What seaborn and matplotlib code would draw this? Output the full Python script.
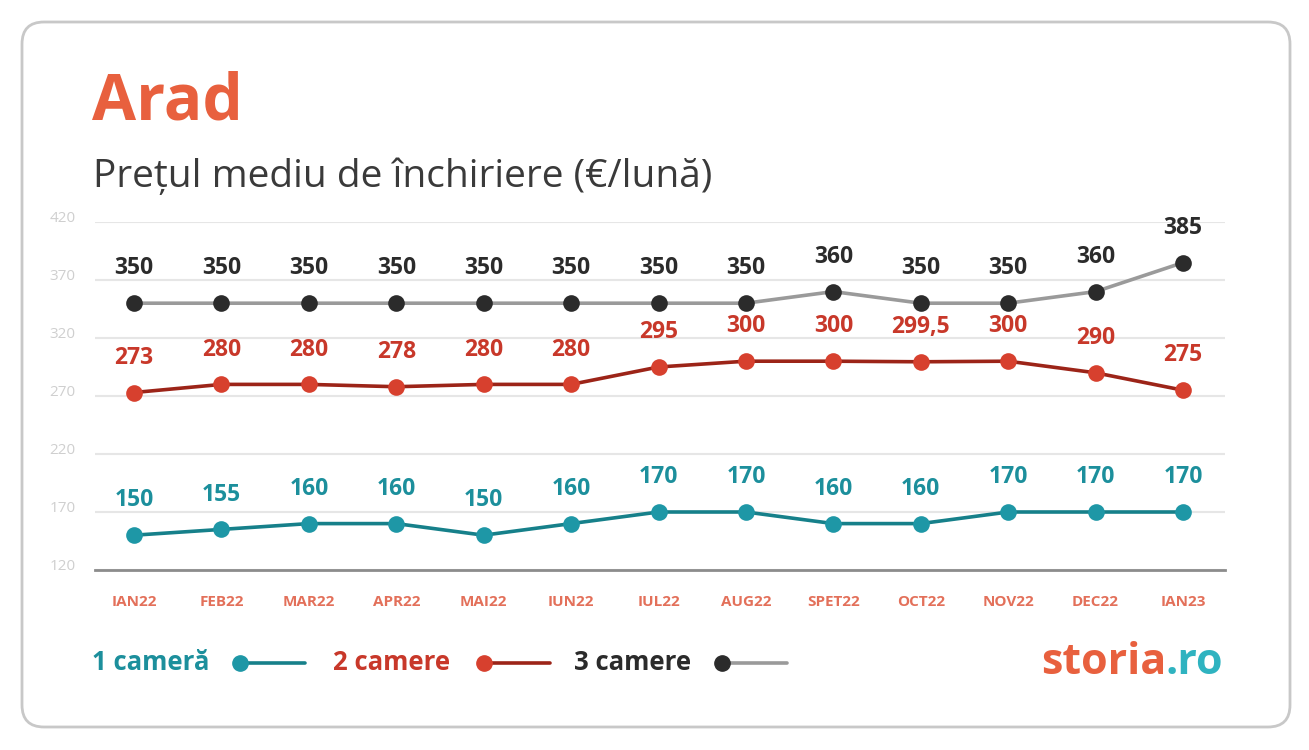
import matplotlib
matplotlib.use("Agg")
import pandas as pd
import matplotlib.pyplot as plt
import matplotlib.transforms as mtransforms
from matplotlib.patches import FancyBboxPatch
from matplotlib.lines import Line2D
import seaborn as sns

# date
months = ['IAN22', 'FEB22', 'MAR22', 'APR22', 'MAI22', 'IUN22', 'IUL22',
          'AUG22', 'SPET22', 'OCT22', 'NOV22', 'DEC22', 'IAN23']
one_room = [150, 155, 160, 160, 150, 160, 170, 170, 160, 160, 170, 170, 170]
two_rooms = [273, 280, 280, 278, 280, 280, 295, 300, 300, 299.5, 300, 290, 275]
three_rooms = [350, 350, 350, 350, 350, 350, 350, 350, 360, 350, 350, 360, 385]
y_ticks = [120, 170, 220, 270, 320, 370, 420]
series_names = ['1 cameră', '2 camere', '3 camere']

W, H = 1309, 750

# culori: (linie, marker, text)
styles = {
    '1 cameră': ('#16808a', '#1e97a6', '#1c8f9c'),
    '2 camere': ('#9c2418', '#d7402e', '#c8382a'),
    '3 camere': ('#9a9a9a', '#2b2b2b', '#2b2b2b'),
}

rows = []
for name, vals in zip(series_names, [one_room, two_rooms, three_rooms]):
    for i, v in enumerate(vals):
        rows.append({'idx': i, 'month': months[i], 'value': v, 'serie': name})
df = pd.DataFrame(rows)

sns.set_theme(style="white")
plt.rcParams['font.family'] = ['Open Sans', 'DejaVu Sans']

fig = plt.figure(figsize=(W / 100, H / 100), dpi=100)
fig.patch.set_facecolor('white')

# chenar rotunjit
frame = FancyBboxPatch((0.22, 0.23), 12.68, 7.05,
                       boxstyle="round,pad=0,rounding_size=0.22",
                       transform=fig.dpi_scale_trans, facecolor='none',
                       edgecolor='#c8c8c8', linewidth=2, zorder=-1)
fig.patches.append(frame)


def px(x, y):
    return x / W, 1 - y / H


ax = fig.add_axes([95 / W, 1 - 570 / H, (1225 - 95) / W, (570 - 222) / H])
ax.set_facecolor('none')

for name in series_names:
    lc, mc, tc = styles[name]
    sub = df[df['serie'] == name]
    sns.lineplot(data=sub, x='idx', y='value', ax=ax, color=lc, linewidth=2.6,
                 marker='o', markersize=12, markerfacecolor=mc,
                 markeredgecolor=mc, markeredgewidth=0, zorder=3)
    for i, v in zip(sub['idx'], sub['value']):
        ax.annotate(f"{v:g}".replace('.', ','), (i, v), xytext=(0, 25),
                    textcoords='offset points', ha='center', va='center',
                    fontsize=16.5, fontweight='bold', color=tc)

ax.set_xlim(-0.446, 12.48)
ax.set_ylim(120, 420)
ax.set_yticks(y_ticks)
ax.set_xticks(range(len(months)))
ax.set_xticklabels(months)
ax.set_xlabel('')
ax.set_ylabel('')

ax.grid(axis='y', color='#e6e6e6', linewidth=1.5)
ax.grid(axis='x', visible=False)
for s in ['top', 'right', 'left']:
    ax.spines[s].set_visible(False)
ax.spines['bottom'].set_color('#8c8c8c')
ax.spines['bottom'].set_linewidth(2)

ax.tick_params(axis='y', length=0, pad=14, labelsize=11, labelcolor='#cfcfcf')
ax.tick_params(axis='x', length=0, pad=18, labelsize=11, labelcolor='#e3705a')
for lab in ax.get_xticklabels():
    lab.set_fontweight('bold')
off = mtransforms.ScaledTranslation(0, 5 / 100, fig.dpi_scale_trans)
for lab in ax.get_yticklabels():
    lab.set_transform(lab.get_transform() + off)

# titlu
fig.text(*px(92, 103), 'Arad', fontsize=46, fontweight='bold',
         color='#e8603e', ha='left', va='center')
fig.text(*px(93, 177), 'Prețul mediu de închiriere (€/lună)', fontsize=28,
         color='#3a3a3a', ha='left', va='center')

# legenda
legend_pos = [(92, 240, 305), (333, 484, 550), (574, 722, 787)]
for name, (tx, mx, ex) in zip(series_names, legend_pos):
    lc, mc, tc = styles[name]
    fig.text(*px(tx, 663), name, fontsize=18.5, fontweight='bold', color=tc,
             ha='left', va='center')
    y = 1 - 663 / H
    fig.add_artist(Line2D([mx / W, ex / W], [y, y], transform=fig.transFigure,
                          color=lc, linewidth=2.6))
    fig.add_artist(Line2D([mx / W], [y], transform=fig.transFigure,
                          marker='o', markersize=11, color=mc, linewidth=0))

# logo
fig.text(*px(1166, 663), 'storia', fontsize=31, fontweight='bold',
         color='#e8603e', ha='right', va='center')
fig.text(*px(1166, 663), '.ro', fontsize=31, fontweight='bold',
         color='#2fb3c0', ha='left', va='center')

fig.savefig('out.png', dpi=100, facecolor='white')
